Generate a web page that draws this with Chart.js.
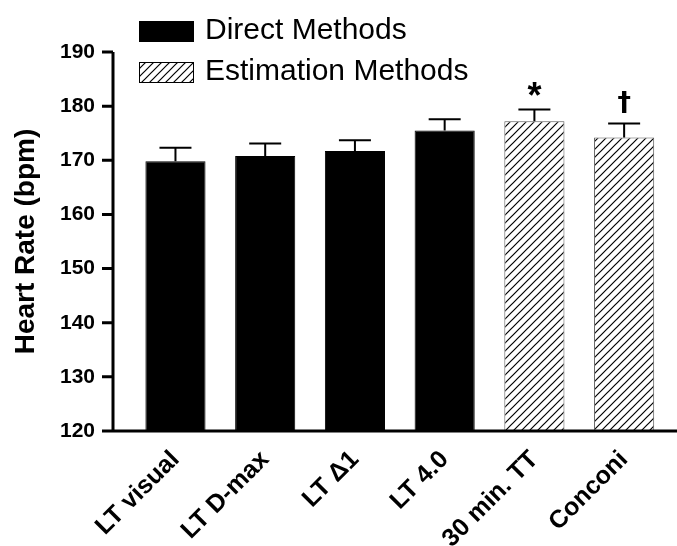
<!DOCTYPE html>
<html>
<head>
<meta charset="utf-8">
<script src="https://cdn.jsdelivr.net/npm/chart.js@4"></script>
<style>
  body { margin: 0; background: #fff; }
  #wrap { width: 677px; height: 546px; }
</style>
</head>
<body>
<div id="wrap"><canvas id="barchart"></canvas></div>
<script>
const methods = ['LT visual', 'LT D-max', 'LT Δ1', 'LT 4.0', '30 min. TT', 'Conconi'];
const heartRate = [169.8, 170.8, 171.7, 175.5, 177.2, 174.2];
const sem = [2.5, 2.3, 2.0, 2.1, 2.2, 2.6];
const group = [0, 0, 0, 0, 1, 1];
const marks = ['', '', '', '', '*', '†'];
const legendNames = ['Direct Methods', 'Estimation Methods'];

Chart.defaults.font.family = '"Liberation Sans", Arial, sans-serif';
Chart.defaults.color = '#000';

// diagonal hatch for the estimation bars
function makeHatch() {
  const c = document.createElement('canvas');
  c.width = 8; c.height = 8;
  const g = c.getContext('2d');
  g.fillStyle = '#fff';
  g.fillRect(0, 0, 8, 8);
  g.strokeStyle = '#000';
  g.lineWidth = 1.2;
  g.beginPath();
  g.moveTo(0, 8); g.lineTo(8, 0);
  g.moveTo(-2, 2); g.lineTo(2, -2);
  g.moveTo(6, 10); g.lineTo(10, 6);
  g.stroke();
  return g.createPattern(c, 'repeat');
}
const hatch = makeHatch();
const fills = ['#000', hatch];
const borders = ['#000', '#555'];

// axis lines drawn a bit wider than the category area, like the original
const axesAndErrors = {
  id: 'axesAndErrors',
  afterDatasetsDraw(chart) {
    const {ctx, scales: {y}} = chart;
    const meta = chart.getDatasetMeta(0);
    ctx.save();
    ctx.strokeStyle = '#000';
    ctx.lineWidth = 2;
    meta.data.forEach((bar, i) => {
      const top = y.getPixelForValue(heartRate[i] + sem[i]);
      ctx.beginPath();
      ctx.moveTo(bar.x, bar.y);
      ctx.lineTo(bar.x, top);
      ctx.moveTo(bar.x - 16, top);
      ctx.lineTo(bar.x + 16, top);
      ctx.stroke();
      ctx.textAlign = 'center';
      ctx.textBaseline = 'alphabetic';
      ctx.fillStyle = '#000';
      if (marks[i] === '*') {
        ctx.font = 'bold 36px "Liberation Sans"';
        ctx.fillText(marks[i], bar.x, top - 1);
      } else if (marks[i]) {
        ctx.font = 'bold 27px "DejaVu Sans"';
        ctx.fillText(marks[i], bar.x, top - 12);
      }
    });

    const axisX = 113;
    const yTop = y.getPixelForValue(190);
    const yBot = y.getPixelForValue(120);
    ctx.lineWidth = 3;
    ctx.beginPath();
    ctx.moveTo(axisX, yTop);
    ctx.lineTo(axisX, yBot + 1.5);
    ctx.moveTo(axisX - 1.5, yBot);
    ctx.lineTo(chart.width, yBot);
    y.ticks.forEach(t => {
      const py = y.getPixelForValue(t.value);
      ctx.moveTo(axisX - 11, py);
      ctx.lineTo(axisX, py);
    });
    ctx.stroke();

    // legend
    ctx.lineWidth = 1;
    legendNames.forEach((name, k) => {
      const top = 21 + k * 41;
      ctx.fillStyle = fills[k];
      ctx.fillRect(139, top, 55, 21);
      ctx.strokeStyle = '#000';
      ctx.strokeRect(139.5, top + 0.5, 54, 20);
      ctx.fillStyle = '#000';
      ctx.font = '30px "Liberation Sans"';
      ctx.textAlign = 'left';
      ctx.textBaseline = 'middle';
      ctx.fillText(name, 205, top + 10);
    });
    ctx.restore();
  }
};

const ctx1 = document.getElementById('barchart');

const barchart = new Chart(ctx1, {
  type: 'bar',
  data: {
    labels: methods,
    datasets: [{
      label: 'Heart Rate',
      data: heartRate,
      backgroundColor: group.map(g => fills[g]),
      borderColor: group.map(g => borders[g]),
      borderWidth: 1,
      categoryPercentage: 1,
      barPercentage: 0.67
    }]
  },
  options: {
    responsive: true,
    maintainAspectRatio: false,
    animation: false,
    layout: { padding: { top: 52, right: 8, left: 0, bottom: 0 } },
    plugins: {
      legend: { display: false },
      tooltip: { enabled: false }
    },
    scales: {
      x: {
        grid: { display: false },
        border: { display: false },
        ticks: {
          minRotation: 45,
          maxRotation: 45,
          padding: 6,
          font: { size: 25, weight: 'bold' }
        },
        afterFit: s => { s.height = 115; }
      },
      y: {
        min: 120,
        max: 190,
        grid: { display: false, drawTicks: false },
        border: { display: false },
        ticks: {
          stepSize: 10,
          padding: 35.6,
          font: { size: 21, weight: 'bold' }
        },
        title: {
          display: true,
          text: 'Heart Rate (bpm)',
          font: { size: 28, weight: 'bold' },
          padding: { top: 9, bottom: 0 }
        },
        afterFit: s => { s.width = 130.6; }
      }
    }
  },
  plugins: [axesAndErrors]
});
</script>
</body>
</html>
